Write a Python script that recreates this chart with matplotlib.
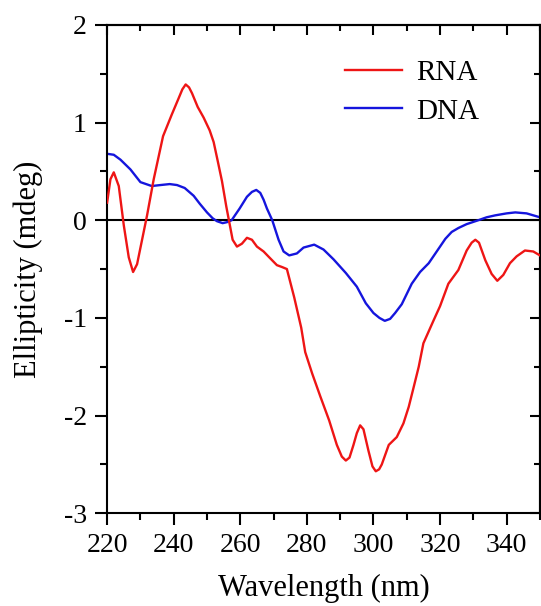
import matplotlib.pyplot as plt
from matplotlib.ticker import MultipleLocator

# CD spectra, wavelength (nm) vs ellipticity (mdeg)
rna_wl = [220, 221, 222, 223.5, 225, 226.5, 227.8, 229, 230.5, 232, 234, 236.8, 239.4,
          241.5, 242.6, 243.6, 244.6, 245.5, 247.2, 249, 250.8, 252, 253.2, 254.5, 255.8,
          257.7, 259, 260.5, 262, 263.5, 265, 267, 268.7, 271, 272.6, 274, 276.2, 278.3,
          279.5, 281.6, 284, 286.7, 289, 290.5, 291.7, 292.8, 294, 295, 296, 297, 298.5,
          299.7, 300.7, 301.7, 302.5, 304.6, 307, 309, 310.6, 312, 313.6, 315, 318, 320,
          322.5, 325.5, 328, 329.5, 330.6, 331.7, 333.6, 335.5, 337.2, 339, 341, 343,
          345.5, 348, 350]
rna_cd = [0.18, 0.42, 0.49, 0.35, -0.05, -0.38, -0.53, -0.45, -0.2, 0.05, 0.42, 0.86, 1.08,
          1.25, 1.34, 1.39, 1.36, 1.3, 1.16, 1.05, 0.92, 0.8, 0.61, 0.4, 0.14,
          -0.2, -0.27, -0.24, -0.18, -0.2, -0.27, -0.32, -0.38, -0.46, -0.48, -0.5, -0.79, -1.1,
          -1.35, -1.57, -1.8, -2.05, -2.3, -2.42, -2.46, -2.43, -2.3, -2.18, -2.1, -2.14, -2.36,
          -2.52, -2.57, -2.55, -2.5, -2.3, -2.22, -2.08, -1.91, -1.72, -1.5, -1.26, -1.03, -0.88,
          -0.65, -0.51, -0.31, -0.23, -0.2, -0.23, -0.41, -0.55, -0.62, -0.56, -0.44, -0.37,
          -0.31, -0.32, -0.36]

dna_wl = [220, 222, 224, 227, 230, 233.4, 236, 238.8, 241, 243.3, 246, 247.8, 250,
          251.7, 253, 254.7, 256, 257.4, 259.8, 262, 263.5, 264.8, 266, 267, 268,
          269.6, 271.5, 273, 274.7, 277, 279, 282.2, 285, 288, 291.7, 295, 297.7,
          300, 301.8, 303.4, 305, 306.5, 308.5, 311.5, 314, 316.6, 319, 321.6, 323.5,
          325.5, 328, 331.5, 334, 336.6, 340, 342.6, 346, 350]
dna_cd = [0.68, 0.67, 0.62, 0.52, 0.39, 0.35, 0.36, 0.37, 0.36, 0.33, 0.25, 0.17, 0.08,
          0.02, -0.01, -0.03, -0.02, 0.0, 0.12, 0.24, 0.29, 0.31, 0.28, 0.21, 0.12,
          0.0, -0.2, -0.32, -0.36, -0.34, -0.28, -0.25, -0.3, -0.4, -0.54, -0.68, -0.85,
          -0.95, -1.0, -1.03, -1.01, -0.95, -0.86, -0.65, -0.53, -0.44, -0.32, -0.19, -0.12,
          -0.08, -0.04, 0.0, 0.03, 0.05, 0.07, 0.08, 0.07, 0.03]

plt.rcParams['font.family'] = ['Liberation Serif', 'DejaVu Serif']
plt.rcParams['axes.unicode_minus'] = False

fig = plt.figure(figsize=(5.41, 6.06), dpi=100)
ax = fig.add_axes([0.198, 0.153, 0.8, 0.806])

ax.axhline(0, color='black', lw=1.5, zorder=1)
ax.plot(rna_wl, rna_cd, color='#ee1515', lw=1.7, label='RNA', zorder=3,
        solid_joinstyle='round')
ax.plot(dna_wl, dna_cd, color='#1515dd', lw=1.7, label='DNA', zorder=2,
        solid_joinstyle='round')

ax.set_xlim(220, 350)
ax.set_ylim(-3, 2)
ax.xaxis.set_major_locator(MultipleLocator(20))
ax.xaxis.set_minor_locator(MultipleLocator(10))
ax.yaxis.set_major_locator(MultipleLocator(1))
ax.yaxis.set_minor_locator(MultipleLocator(0.5))

for sp in ax.spines.values():
    sp.set_linewidth(1.5)

ax.tick_params(which='major', direction='out', length=8.5, width=1.5, labelsize=20)
ax.tick_params(axis='x', which='major', pad=6)
ax.tick_params(axis='y', which='major', pad=6)
ax.tick_params(which='minor', direction='out', length=5, width=1.5)

# inward ticks on top and right, no labels
top = ax.secondary_xaxis('top')
top.xaxis.set_major_locator(MultipleLocator(20))
top.xaxis.set_minor_locator(MultipleLocator(10))
top.tick_params(which='major', direction='in', length=7, width=1.5, labeltop=False)
top.tick_params(which='minor', direction='in', length=4.5, width=1.5)
top.spines['top'].set_linewidth(1.5)

right = ax.secondary_yaxis('right')
right.yaxis.set_major_locator(MultipleLocator(1))
right.yaxis.set_minor_locator(MultipleLocator(0.5))
right.tick_params(which='major', direction='in', length=7, width=1.5, labelright=False)
right.tick_params(which='minor', direction='in', length=4.5, width=1.5)
right.spines['right'].set_linewidth(1.5)

ax.set_xlabel('Wavelength (nm)', fontsize=22, labelpad=11)
ax.set_ylabel('Ellipticity (mdeg)', fontsize=22, labelpad=15)

ax.legend(loc='upper left', frameon=False, fontsize=21, handlelength=1.95,
          handletextpad=0.5, labelspacing=0.4, borderaxespad=0, borderpad=0,
          bbox_to_anchor=(0.55, 0.928))

fig.savefig('out.png', dpi=100)
